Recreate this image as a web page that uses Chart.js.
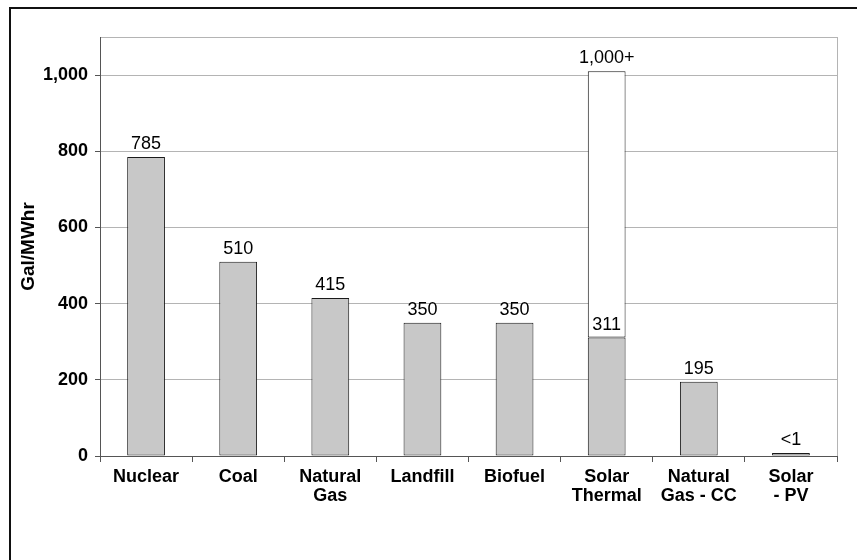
<!DOCTYPE html>
<html>
<head>
<meta charset="utf-8">
<script src="https://cdn.jsdelivr.net/npm/chart.js"></script>
<style>
  html, body { margin: 0; padding: 0; background: #fff; }
  #wrap { position: absolute; left: 0; top: 0; width: 857px; height: 560px; }
  #frame { position: absolute; left: 9px; top: 7px; width: 860px; height: 560px;
           border-left: 2px solid #111; border-top: 2px solid #111; }
</style>
</head>
<body>
<div id="frame"></div>
<div id="wrap"><canvas id="chart"></canvas></div>
<script>
// Данные
var categories = [['Nuclear'], ['Coal'], ['Natural', 'Gas'], ['Landfill'], ['Biofuel'],
                  ['Solar', 'Thermal'], ['Natural', 'Gas - CC'], ['Solar', '- PV']];
var baseValues = [785, 510, 415, 350, 350, 311, 195, 1];
var extraValues = [0, 0, 0, 0, 0, 699, 0, 0];
var baseLabels = ['785', '510', '415', '350', '350', '311', '195', '<1'];
var extraLabels = ['', '', '', '', '', '1,000+', '', ''];
var yTicks = [0, 200, 400, 600, 800, 1000];
var yMax = 1100;

// Подписи над столбцами
var valueLabels = {
    id: 'valueLabels',
    afterDatasetsDraw: function(chart) {
        var ctx = chart.ctx;
        ctx.save();
        ctx.font = '18px Arial, "Liberation Sans", sans-serif';
        ctx.fillStyle = '#000';
        ctx.textAlign = 'center';
        ctx.textBaseline = 'alphabetic';
        [[0, baseLabels], [1, extraLabels]].forEach(function(pair) {
            var meta = chart.getDatasetMeta(pair[0]);
            meta.data.forEach(function(bar, i) {
                if (pair[1][i]) ctx.fillText(pair[1][i], bar.x, bar.y - 8);
            });
        });
        // правая граница области графика
        var a = chart.chartArea;
        ctx.strokeStyle = '#b4b4b4';
        ctx.lineWidth = 1;
        ctx.beginPath();
        ctx.moveTo(Math.round(a.right) + 0.5, a.top);
        ctx.lineTo(Math.round(a.right) + 0.5, a.bottom);
        ctx.stroke();
        ctx.restore();
    }
};

var ctx = document.getElementById('chart').getContext('2d');
var chart = new Chart(ctx, {
    type: 'bar',
    data: {
        labels: categories,
        datasets: [{
            data: baseValues,
            backgroundColor: '#c8c8c8',
            borderColor: '#1a1a1a',
            borderWidth: 1,
            borderSkipped: false,
            minBarLength: 3,
            categoryPercentage: 1,
            barPercentage: 0.41
        }, {
            data: extraValues,
            backgroundColor: '#fff',
            borderColor: '#1a1a1a',
            borderWidth: 1,
            borderSkipped: false,
            categoryPercentage: 1,
            barPercentage: 0.41
        }]
    },
    options: {
        responsive: true,
        maintainAspectRatio: false,
        animation: false,
        layout: { padding: { left: 0, top: 37, right: 20, bottom: 0 } },
        plugins: { legend: { display: false }, tooltip: { enabled: false } },
        scales: {
            x: {
                stacked: true,
                afterFit: function(scale) { scale.height = 104; },
                grid: { offset: true, drawOnChartArea: false, tickLength: 6, color: '#555' },
                border: { color: '#555' },
                ticks: {
                    color: '#000',
                    maxRotation: 0,
                    autoSkip: false,
                    padding: 5,
                    font: { family: 'Arial, "Liberation Sans", sans-serif', size: 18, weight: 'bold', lineHeight: 1.08 }
                }
            },
            y: {
                stacked: true,
                min: 0,
                max: yMax,
                afterFit: function(scale) { scale.width = 100; },
                afterBuildTicks: function(scale) {
                    scale.ticks = yTicks.concat([yMax]).map(function(v) { return { value: v }; });
                },
                grid: {
                    color: '#b4b4b4',
                    tickColor: function(c) { return c.tick && c.tick.value === yMax ? 'rgba(0,0,0,0)' : '#555'; },
                    tickLength: 5
                },
                border: { color: '#555' },
                ticks: {
                    color: '#000',
                    padding: 7,
                    font: { family: 'Arial, "Liberation Sans", sans-serif', size: 18, weight: 'bold' },
                    callback: function(v) { return yTicks.indexOf(v) >= 0 ? v.toLocaleString('en-US') : ''; }
                },
                title: {
                    display: true,
                    text: 'Gal/MWhr',
                    color: '#000',
                    padding: { top: 17, bottom: 0 },
                    font: { family: 'Arial, "Liberation Sans", sans-serif', size: 19, weight: 'bold' }
                }
            }
        }
    },
    plugins: [valueLabels]
});
</script>
</body>
</html>
